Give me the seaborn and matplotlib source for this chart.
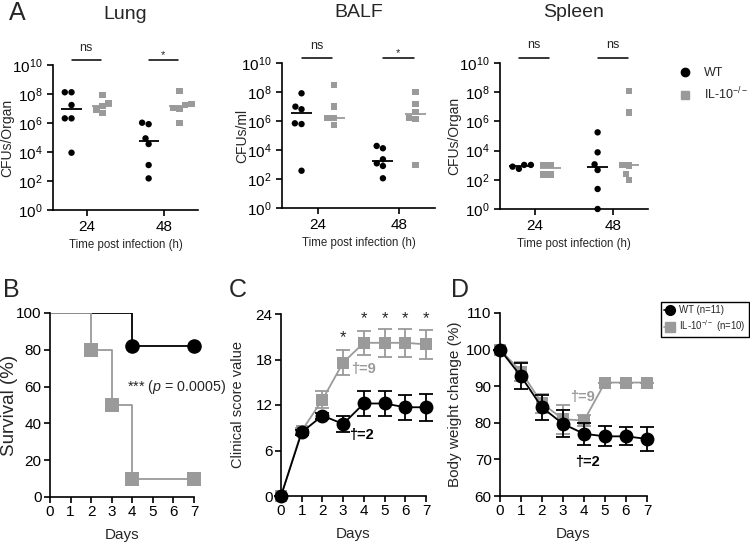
import numpy as np
import pandas as pd
import matplotlib
matplotlib.use('Agg')
import matplotlib.pyplot as plt
import matplotlib.transforms as mtransforms
from matplotlib.lines import Line2D
from matplotlib.ticker import NullLocator
import seaborn as sns

sns.set_theme(style='ticks')
plt.rcParams['font.family'] = ['Liberation Sans', 'DejaVu Sans']
plt.rcParams['mathtext.fontset'] = 'custom'
plt.rcParams['mathtext.rm'] = 'Liberation Sans'
plt.rcParams['mathtext.it'] = 'Liberation Sans:italic'
plt.rcParams['mathtext.bf'] = 'Liberation Sans:bold'

GREY = '#9a9a9a'
groups = ['WT', 'IL-10']
times = ['24', '48']

# Panel A: log10 CFU per mouse
lung_wt_24 = [8.12, 8.12, 7.24, 6.32, 6.32, 3.95]
lung_il_24 = [7.93, 7.36, 7.17, 6.94, 6.71]
lung_wt_48 = [6.02, 5.92, 4.94, 4.55, 3.10, 2.18]
lung_il_48 = [8.20, 7.30, 7.25, 7.05, 6.98, 6.00]

balf_wt_24 = [7.91, 6.99, 6.81, 5.84, 5.79, 2.57]
balf_il_24 = [8.48, 6.99, 6.19, 6.19, 5.72]
balf_wt_48 = [4.28, 4.12, 3.36, 3.08, 2.90, 2.05]
balf_il_48 = [8.02, 7.17, 6.64, 6.19, 6.12, 2.97]

spleen_wt_24 = [3.02, 3.02, 2.90, 2.75]
spleen_il_24 = [3.01, 3.01, 2.35, 2.35]
spleen_wt_48 = [5.25, 3.88, 3.06, 2.67, 1.37, 0.0]
spleen_il_48 = [8.08, 6.62, 3.01, 2.97, 2.38, 1.99]

# Panel B: survival (%)
surv_days_wt = [0, 4, 7]
surv_wt = [100, 81.8, 81.8]
surv_days_il = [0, 2, 3, 4, 7]
surv_il = [100, 80, 50, 10, 10]

# Panels C and D: mean +/- SEM per day
days = [0, 1, 2, 3, 4, 5, 6, 7]
clin_wt = [0, 8.4, 10.6, 9.5, 12.2, 12.2, 11.7, 11.7]
clin_wt_sem = [0, 0.3, 0.4, 1.05, 1.65, 1.65, 1.65, 1.75]
clin_il = [0, 8.6, 12.7, 17.6, 20.2, 20.2, 20.2, 20.0]
clin_il_sem = [0, 0.4, 1.15, 1.6, 1.6, 1.85, 1.85, 1.95]

weight_wt = [100, 92.7, 84.2, 79.7, 77.0, 76.3, 76.3, 75.6]
weight_wt_sem = [0, 3.6, 3.5, 3.7, 3.0, 2.7, 2.5, 3.2]
weight_il = [100, 94.0, 85.3, 81.0, 80.6, 91.0, 91.0, 91.0]
weight_il_sem = [0, 2.5, 2.7, 4.0, 1.5, 0, 0, 0]

W, H = 750, 543


def box(l, t, r, b):
    return [l / W, 1 - b / H, (r - l) / W, (b - t) / H]


def style_axis(ax, lw=1.2):
    sns.despine(ax=ax)
    for s in ['left', 'bottom']:
        ax.spines[s].set_linewidth(lw)
        ax.spines[s].set_color('black')
    ax.tick_params(direction='out', length=4, width=lw, colors='black')


fig = plt.figure(figsize=(7.5, 5.43), dpi=100)
fig.patch.set_facecolor('white')

organ_panels = [
    ('Lung', 'CFUs/Organ', box(53, 65, 198, 210), -0.27,
     [lung_wt_24, lung_il_24, lung_wt_48, lung_il_48], ['ns', '*']),
    ('BALF', 'CFUs/ml', box(282, 63, 435, 208), -0.216,
     [balf_wt_24, balf_il_24, balf_wt_48, balf_il_48], ['ns', '*']),
    ('Spleen', 'CFUs/Organ', box(500, 63, 648, 209), -0.264,
     [spleen_wt_24, spleen_il_24, spleen_wt_48, spleen_il_48], ['ns', 'ns']),
]

pal = {'WT': 'black', 'IL-10': GREY}
markers = {'WT': 'o', 'IL-10': 's'}
offsets = {'WT': -0.2, 'IL-10': 0.2}

for title, ylab, rect, ylx, series, sig in organ_panels:
    ax = fig.add_axes(rect)
    rows = []
    for (t, g), vals in zip([(t, g) for t in times for g in groups], series):
        for v in vals:
            rows.append({'time': t, 'group': g, 'cfu': 10.0 ** v})
    df = pd.DataFrame(rows)
    for g in groups:
        sns.swarmplot(data=df[df['group'] == g], x='time', y='cfu', hue='group',
                      order=times, hue_order=groups, dodge=True, palette=pal,
                      marker=markers[g], size=4.6, log_scale=True,
                      legend=False, ax=ax)
    for coll in ax.collections:
        coll.set_clip_on(False)
    med = df.groupby(['time', 'group'])['cfu'].median()
    for ti, t in enumerate(times):
        for g in groups:
            c = ti + offsets[g]
            ax.hlines(med[(t, g)], c - 0.13, c + 0.13, color=pal[g], lw=1.3, zorder=1)
    ax.set_yscale('log')
    ax.set_ylim(1, 1e10)
    ax.set_yticks([10.0 ** k for k in range(0, 11, 2)])
    ax.yaxis.set_minor_locator(NullLocator())
    ax.set_xlim(-0.44, 1.44)
    style_axis(ax)
    ax.tick_params(axis='both', labelsize=11)
    ax.tick_params(axis='x', pad=3)
    ax.set_xlabel('Time post infection (h)', fontsize=8.3, labelpad=4)
    ax.set_ylabel(ylab, fontsize=10)
    ax.yaxis.set_label_coords(ylx, 0.5)
    ax.text(0.5, 1.345, title, transform=ax.transAxes, ha='center', va='center', fontsize=14)
    trans = mtransforms.blended_transform_factory(ax.transData, ax.transAxes)
    for ti, s in enumerate(sig):
        ax.plot([ti - 0.2, ti + 0.18], [1.035, 1.035], color='black', lw=1.1,
                transform=trans, clip_on=False)
        if s == 'ns':
            ax.text(ti - 0.01, 1.12, s, transform=trans, ha='center', va='center', fontsize=9)
        else:
            ax.text(ti - 0.01, 1.07, s, transform=trans, ha='center', va='center', fontsize=8)

fig.legend(handles=[Line2D([], [], marker='o', color='black', ls='none', markersize=6),
                    Line2D([], [], marker='s', color=GREY, ls='none', markersize=6)],
           labels=['WT', 'IL-10$^{-/-}$'], loc='upper left',
           bbox_to_anchor=(671 / W, 1 - 62 / H), frameon=False, fontsize=9,
           handlelength=1.5, handletextpad=0.7, labelspacing=0.55, borderaxespad=0)

# Panel B: survival
axb = fig.add_axes(box(50, 313, 194, 497))
sns.lineplot(x=surv_days_wt, y=surv_wt, drawstyle='steps-post', color='black', lw=1.3, ax=axb)
sns.lineplot(x=surv_days_il, y=surv_il, drawstyle='steps-post', color=GREY, lw=1.3, ax=axb)
sns.scatterplot(x=surv_days_il[1:], y=surv_il[1:], marker='s', color=GREY, s=110,
                linewidth=0, ax=axb, clip_on=False, zorder=3)
sns.scatterplot(x=surv_days_wt[1:], y=surv_wt[1:], marker='o', color='black', s=110,
                linewidth=0, ax=axb, clip_on=False, zorder=4)
axb.set_xlim(0, 7)
axb.set_ylim(0, 100)
axb.set_xticks(range(8))
axb.set_yticks(range(0, 101, 20))
style_axis(axb)
axb.tick_params(labelsize=11, pad=2)
axb.set_xlabel('Days', fontsize=11, labelpad=6)
axb.set_ylabel('Survival (%)', fontsize=13.5)
axb.yaxis.set_label_coords(-0.222, 0.5)
axb.text(3.72, 60, '*** ($p$ = 0.0005)', fontsize=10.3, va='center', ha='left')

# Panel C: clinical score
axc = fig.add_axes(box(281, 314, 426, 496))
for y, e, col, mk, ms in [(clin_il, clin_il_sem, GREY, 's', 9), (clin_wt, clin_wt_sem, 'black', 'o', 10)]:
    axc.errorbar(days, y, yerr=e, fmt='none', ecolor=col, elinewidth=1.3, capsize=5,
                 capthick=1.3, clip_on=False)
    sns.lineplot(x=days, y=y, color=col, marker=mk, markersize=ms, markeredgewidth=0,
                 lw=1.3, ax=axc, clip_on=False)
axc.set_xlim(0, 7)
axc.set_ylim(0, 24)
axc.set_xticks(range(8))
axc.set_yticks(range(0, 25, 6))
style_axis(axc)
axc.tick_params(labelsize=11, pad=2)
axc.set_xlabel('Days', fontsize=11, labelpad=6)
axc.set_ylabel('Clinical score value', fontsize=10.5)
axc.yaxis.set_label_coords(-0.248, 0.5)
axc.text(3, 20.9, '*', ha='center', va='center', fontsize=12)
for d in [4, 5, 6, 7]:
    axc.text(d, 23.4, '*', ha='center', va='center', fontsize=12)
axc.text(3.4, 16.7, '†=9', color=GREY, fontsize=10.5, fontweight='bold', va='center')
axc.text(3.3, 8.0, '†=2', color='black', fontsize=10.5, fontweight='bold', va='center')

# Panel D: body weight
axd = fig.add_axes(box(500, 313, 647, 496))
for y, e, col, mk, ms in [(weight_il, weight_il_sem, GREY, 's', 9), (weight_wt, weight_wt_sem, 'black', 'o', 10)]:
    axd.errorbar(days, y, yerr=e, fmt='none', ecolor=col, elinewidth=1.3, capsize=5,
                 capthick=1.3, clip_on=False)
    sns.lineplot(x=days, y=y, color=col, marker=mk, markersize=ms, markeredgewidth=0,
                 lw=1.3, ax=axd, clip_on=False)
axd.set_xlim(0, 7)
axd.set_ylim(60, 110)
axd.set_xticks(range(8))
axd.set_yticks(range(60, 111, 10))
style_axis(axd)
axd.tick_params(labelsize=11, pad=2)
axd.set_xlabel('Days', fontsize=11, labelpad=6)
axd.set_ylabel('Body weight change (%)', fontsize=11)
axd.yaxis.set_label_coords(-0.259, 0.5)
axd.text(3.33, 87.0, '†=9', color=GREY, fontsize=10.5, fontweight='bold', va='center')
axd.text(3.57, 69.4, '†=2', color='black', fontsize=10.5, fontweight='bold', va='center')

fig.legend(handles=[Line2D([], [], marker='o', color='black', lw=1.2, markersize=7),
                    Line2D([], [], marker='s', color=GREY, lw=1.2, markersize=7)],
           labels=['WT (n=11)', 'IL-10$^{-/-}$ (n=10)'], loc='upper left',
           bbox_to_anchor=(661 / W, 1 - 302 / H), frameon=True, fancybox=False,
           edgecolor='black', framealpha=1, fontsize=6.9, handlelength=1.2,
           handletextpad=0.4, borderpad=0.3, labelspacing=0.35, borderaxespad=0)

# panel letters
for letter, px, py in [('A', 17, 13), ('B', 11, 290), ('C', 238, 290), ('D', 460, 290)]:
    fig.text(px / W, 1 - py / H, letter, fontsize=18, ha='center', va='center')

fig.savefig('out.png', dpi=100, facecolor='white')
